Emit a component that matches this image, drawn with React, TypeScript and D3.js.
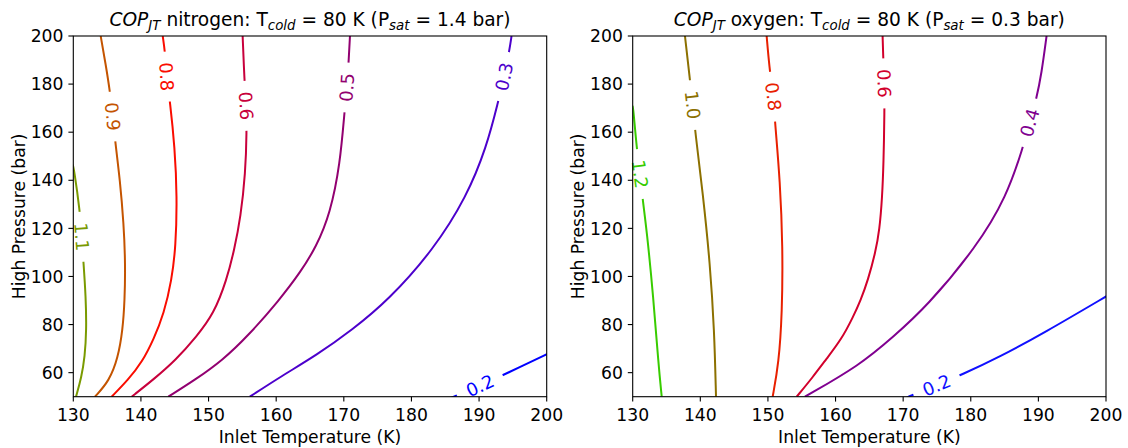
import React from 'react';
import * as d3 from 'd3';

type Pt = [number, number];

const W = 1128;
const H = 448;
const xTicks = [130, 140, 150, 160, 170, 180, 190, 200];
const yTicks = [60, 80, 100, 120, 140, 160, 180, 200];
const tDomain: Pt = [130, 200];
const pDomain: Pt = [50, 200];
const xLabel = 'Inlet Temperature (K)';
const yLabel = 'High Pressure (bar)';

// ---------- Nitrogen contour lines: [Inlet T (K), High P (bar)] ----------
const n2Levels = ['1.1', '0.9', '0.8', '0.6', '0.5', '0.3', '0.2'];
const n2Level11: Pt[] = [[129.9, 146.5], [130.1, 144.9], [130.99, 126.9], [131.24, 116.5], [131.5, 106.1], [131.85, 91.5], [131.95, 77.7], [131.7, 66.6], [131.2, 58], [130.4, 50]];
const n2Level09: Pt[] = [[134.05, 200], [134.8, 188], [135.43, 176.8], [135.82, 166.5], [136.2, 156], [136.9, 140.1], [137.45, 122.1], [137.7, 105.4], [137.6, 90], [137.3, 77.7], [136.6, 66], [135.3, 56.5], [133.2, 50]];
const n2Level08: Pt[] = [[143.22, 200], [143.56, 193.5], [143.8, 183.1], [144.3, 172.7], [145.0, 153.9], [145.35, 133.1], [145.15, 112.3], [144.55, 98.5], [143.4, 84.6], [141.9, 74], [140.2, 64.5], [138.1, 57], [135.67, 50]];
const n2Level06: Pt[] = [[155.04, 200], [155.3, 181.7], [155.55, 171], [155.65, 160.2], [155.45, 142.9], [154.75, 124.8], [153.8, 111], [152.67, 98.5], [150.8, 84.6], [148.2, 74.9], [145.1, 65.1], [142, 57.5], [138.63, 50]];
const n2Level05: Pt[] = [[170.91, 200], [170.7, 188.6], [170.45, 178.6], [170.1, 168.5], [169.46, 147], [168.0, 126.2], [165.91, 112.3], [163.62, 101.9], [160.45, 90.15], [155.94, 75.6], [152.05, 65.1], [148, 57], [144.05, 50]];
const n2Level03: Pt[] = [[194.8, 200], [194.46, 193.5], [193.7, 183.1], [192.83, 172.7], [191.12, 153.9], [188.16, 133.1], [183.23, 111], [176.6, 90.15], [171.2, 77.7], [165.98, 67.3], [160.8, 58.6], [156.1, 50]];
const n2Level02: Pt[] = [[200.5, 68.3], [194.08, 59.7], [190.13, 54.6], [186.28, 50.1], [185.5, 49]];
const n2Lines = [n2Level11, n2Level09, n2Level08, n2Level06, n2Level05, n2Level03, n2Level02];
const n2LabelAt: Pt[] = [[131.24, 116.5], [135.82, 166.5], [143.8, 183.1], [155.55, 171], [170.45, 178.6], [193.7, 183.1], [190.13, 54.6]];
const n2Colors = ['#7a9a00', '#c45400', '#fa0c00', '#c8003c', '#920070', '#4c00cc', '#0000ff'];

// ---------- Oxygen contour lines ----------
const o2Levels = ['1.2', '1.0', '0.8', '0.6', '0.4', '0.2'];
const o2Level12: Pt[] = [[129.95, 171], [130.09, 169.9], [130.59, 153.3], [131.08, 142.6], [131.48, 131.8], [132.07, 119.3], [133.05, 91.5], [133.8, 63.8], [134.29, 50]];
const o2Level10: Pt[] = [[137.73, 200], [138.47, 181.7], [138.87, 171.3], [139.21, 160.9], [140.44, 133.1], [141.43, 105.4], [142.07, 77.7], [142.32, 50]];
const o2Level08: Pt[] = [[149.81, 200], [150.2, 187.2], [150.79, 174.8], [151.1, 162.3], [151.78, 140.1], [152.2, 112.3], [152.1, 84.6], [151.6, 63.8], [150.7, 50]];
const o2Level06: Pt[] = [[166.96, 200], [167.05, 191.4], [167.2, 180.3], [167.25, 169.2], [167.1, 147], [166.9, 133], [166.5, 119.2], [165.9, 110], [164.8, 98.5], [163.7, 90], [162.6, 83.2], [160.9, 74], [158.7, 65.9], [156.6, 58], [154.25, 50]];
const o2Level04: Pt[] = [[191.21, 200], [190.47, 184.5], [189.73, 174.1], [188.7, 163.9], [187.75, 153.9], [185.29, 133.1], [180.86, 112.3], [173.47, 87.4], [168.53, 74.9], [163.6, 63.1], [155.47, 50]];
const o2Level02: Pt[] = [[200.5, 92.5], [190.7, 76.3], [184.3, 66.6], [178.64, 59.1], [174.94, 54.8], [171.0, 50.3], [170.5, 49.5]];
const o2Lines = [o2Level12, o2Level10, o2Level08, o2Level06, o2Level04, o2Level02];
const o2LabelAt: Pt[] = [[131.08, 142.6], [138.87, 171.3], [150.79, 174.8], [167.2, 180.3], [188.7, 163.9], [174.94, 54.8]];
const o2Colors = ['#38cc00', '#8c7000', '#e82000', '#d2002c', '#800090', '#1010ff'];

const FONT = '"DejaVu Sans", sans-serif';
const TOP = 36;
const BOTTOM = 396.7;
const FS = 17.2;
const LFS = 18;

function segDist(p: Pt, a: Pt, b: Pt) {
  const dx = b[0] - a[0], dy = b[1] - a[1];
  const len2 = dx * dx + dy * dy || 1;
  let t = ((p[0] - a[0]) * dx + (p[1] - a[1]) * dy) / len2;
  t = Math.max(0, Math.min(1, t));
  const qx = a[0] + t * dx, qy = a[1] + t * dy;
  return Math.hypot(p[0] - qx, p[1] - qy);
}

type PanelProps = {
  id: string;
  x0: number;
  x1: number;
  gas: string;
  psat: string;
  levels: string[];
  lines: Pt[][];
  labels: Pt[];
  colors: string[];
};

function Panel({ id, x0, x1, gas, psat, levels, lines, labels, colors }: PanelProps) {
  const x = d3.scaleLinear().domain(tDomain).range([x0, x1]);
  const y = d3.scaleLinear().domain(pDomain).range([BOTTOM, TOP]);
  const line = d3
    .line<Pt>()
    .x((d) => x(d[0]))
    .y((d) => y(d[1]))
    .curve(d3.curveBasis);

  const labelInfo = labels.map((lp, i) => {
    const p: Pt = [x(lp[0]), y(lp[1])];
    const pts: Pt[] = lines[i].map((q) => [x(q[0]), y(q[1])] as Pt);
    let best = 0;
    let bestD = Infinity;
    for (let j = 0; j < pts.length - 1; j++) {
      const dd = segDist(p, pts[j], pts[j + 1]);
      if (dd < bestD) {
        bestD = dd;
        best = j;
      }
    }
    const a = pts[best], b = pts[best + 1];
    let ang = (Math.atan2(b[1] - a[1], b[0] - a[0]) * 180) / Math.PI;
    if (ang > 90) ang -= 180;
    if (ang < -90) ang += 180;
    return { px: p[0], py: p[1], ang };
  });

  const cx = (x0 + x1) / 2;
  const cy = (TOP + BOTTOM) / 2;
  const tFs = 18.6;
  const subFs = tFs * 0.72;

  return (
    <g>
      <defs>
        <clipPath id={`clip-${id}`}>
          <rect x={x0} y={TOP} width={x1 - x0} height={BOTTOM - TOP} />
        </clipPath>
        <mask id={`mask-${id}`} maskUnits="userSpaceOnUse" x={0} y={0} width={W} height={H}>
          <rect x={0} y={0} width={W} height={H} fill="white" />
          {labelInfo.map((l, i) => (
            <rect
              key={i}
              x={-25}
              y={-9}
              width={50}
              height={18}
              fill="black"
              transform={`translate(${l.px},${l.py}) rotate(${l.ang})`}
            />
          ))}
        </mask>
      </defs>
      <g clipPath={`url(#clip-${id})`}>
        <g mask={`url(#mask-${id})`}>
          {lines.map((ln, i) => (
            <path key={i} d={line(ln) || ''} fill="none" stroke={colors[i]} strokeWidth={2} />
          ))}
        </g>
      </g>
      {labelInfo.map((l, i) => (
        <text
          key={i}
          transform={`translate(${l.px},${l.py}) rotate(${l.ang})`}
          textAnchor="middle"
          dominantBaseline="central"
          fontSize={LFS}
          fill={colors[i]}
          fontFamily={FONT}
        >
          {levels[i]}
        </text>
      ))}
      <rect x={x0} y={TOP} width={x1 - x0} height={BOTTOM - TOP} fill="none" stroke="black" strokeWidth={1.1} />
      {xTicks.map((t) => (
        <g key={`x${t}`}>
          <line x1={x(t)} x2={x(t)} y1={BOTTOM} y2={BOTTOM + 4.9} stroke="black" strokeWidth={1.1} />
          <text x={x(t)} y={420.5} textAnchor="middle" fontSize={FS} fontFamily={FONT} fill="black">
            {t}
          </text>
        </g>
      ))}
      {yTicks.map((t) => (
        <g key={`y${t}`}>
          <line x1={x0 - 4.9} x2={x0} y1={y(t)} y2={y(t)} stroke="black" strokeWidth={1.1} />
          <text x={x0 - 9.8} y={y(t) + 6.2} textAnchor="end" fontSize={FS} fontFamily={FONT} fill="black">
            {t}
          </text>
        </g>
      ))}
      <text x={cx} y={443} textAnchor="middle" fontSize={FS} fontFamily={FONT} fill="black">
        {xLabel}
      </text>
      <text
        transform={`translate(${x0 - 48.8},${cy}) rotate(-90)`}
        textAnchor="middle"
        fontSize={FS}
        fontFamily={FONT}
        fill="black"
      >
        {yLabel}
      </text>
      <text x={cx} y={26} textAnchor="middle" fontSize={tFs} fontFamily={FONT} fill="black" style={{ whiteSpace: 'pre' }}>
        <tspan fontStyle="italic">COP</tspan>
        <tspan fontStyle="italic" fontSize={subFs} dy={3.5}>JT</tspan>
        <tspan dy={-3.5}>{` ${gas}: T`}</tspan>
        <tspan fontStyle="italic" fontSize={subFs} dy={3.5}>cold</tspan>
        <tspan dy={-3.5}>{' = 80 K (P'}</tspan>
        <tspan fontStyle="italic" fontSize={subFs} dy={3.5}>sat</tspan>
        <tspan dy={-3.5}>{` = ${psat} bar)`}</tspan>
      </text>
    </g>
  );
}

export default function App() {
  return (
    <div style={{ position: 'absolute', left: 0, top: 0, width: W, height: H }}>
      <svg width={W} height={H} viewBox={`0 0 ${W} ${H}`} style={{ display: 'block', background: 'white' }}>
        <rect x={0} y={0} width={W} height={H} fill="white" />
        <Panel
          id="n2"
          x0={73.3}
          x1={546.7}
          gas="nitrogen"
          psat="1.4"
          levels={n2Levels}
          lines={n2Lines}
          labels={n2LabelAt}
          colors={n2Colors}
        />
        <Panel
          id="o2"
          x0={632.7}
          x1={1106}
          gas="oxygen"
          psat="0.3"
          levels={o2Levels}
          lines={o2Lines}
          labels={o2LabelAt}
          colors={o2Colors}
        />
      </svg>
    </div>
  );
}
